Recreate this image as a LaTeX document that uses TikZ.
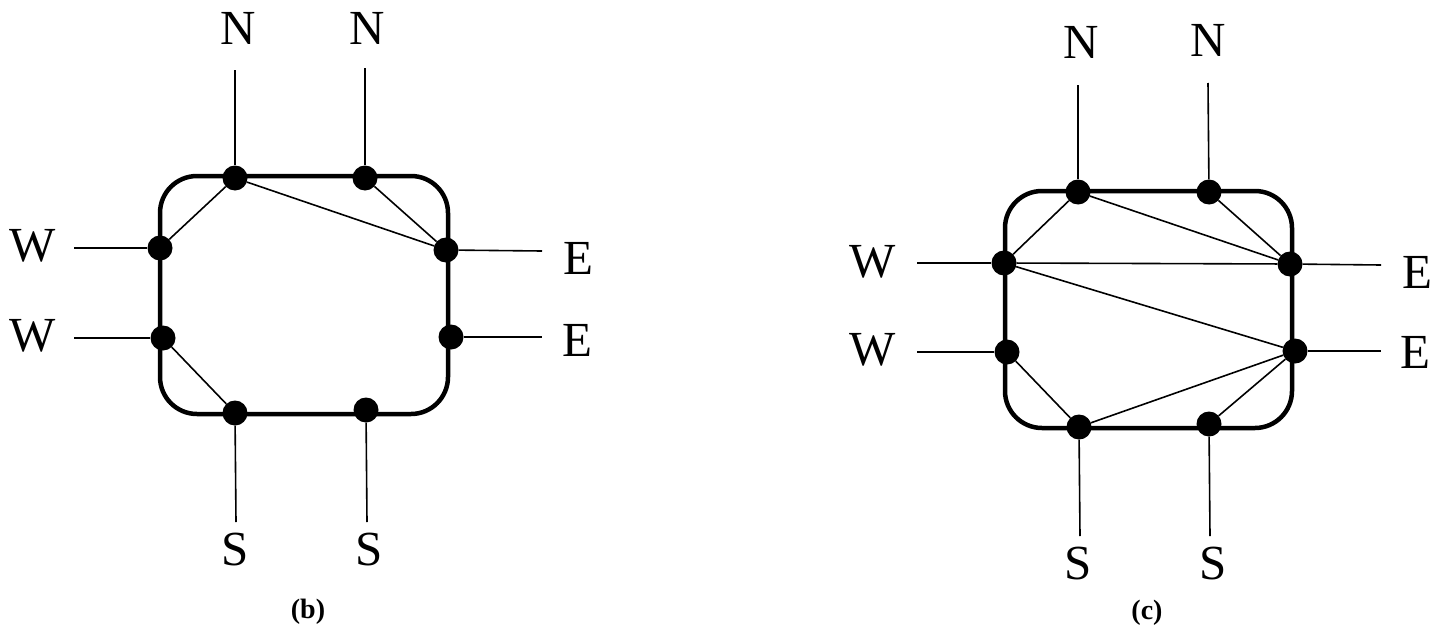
\documentclass[tikz,border=0pt]{standalone}
\usepackage{fontspec}
\setmainfont{Liberation Serif}
\begin{document}
\begin{tikzpicture}[x=1pt,y=-1pt,
  frame/.style={draw,line width=4.5pt,rounded corners=37pt,rectangle,inner sep=0pt},
  pin/.style={circle,fill=black,inner sep=0pt,minimum size=25pt},
  wire/.style={line width=1.6pt},
  dir/.style={inner sep=0pt,font=\fontsize{49}{55}\selectfont},
  caption/.style={inner sep=0pt,font=\fontsize{28}{32}\selectfont\bfseries}]
\useasboundingbox (0,0) rectangle (1451,629);

% ---------- (b) ----------
\node[frame,minimum width=288pt,minimum height=238pt] (bbox) at (304,295) {};
\node[pin] (bN1) at (235,178) {};
\node[pin] (bN2) at (365,178) {};
\node[pin] (bW1) at (160,248) {};
\node[pin] (bW2) at (163,338) {};
\node[pin] (bE1) at (446,250) {};
\node[pin] (bE2) at (451,337) {};
\node[pin] (bS1) at (235,413) {};
\node[pin] (bS2) at (366,410) {};

\coordinate (bN1t) at (235,70);
\coordinate (bN2t) at (365,68);
\coordinate (bW1t) at (74,248);
\coordinate (bW2t) at (74,338);
\coordinate (bE1t) at (542,251);
\coordinate (bE2t) at (542,337);
\coordinate (bS1t) at (236,522);
\coordinate (bS2t) at (367,522);

\draw[wire] (bN1t) -- (bN1);
\draw[wire] (bN2t) -- (bN2);
\draw[wire] (bW1t) -- (bW1);
\draw[wire] (bW2t) -- (bW2);
\draw[wire] (bE1) -- (bE1t);
\draw[wire] (bE2) -- (bE2t);
\draw[wire] (bS1) -- (bS1t);
\draw[wire] (bS2) -- (bS2t);

\draw[wire] (bW1) -- (bN1);
\draw[wire] (bN1) -- (bE1);
\draw[wire] (bN2) -- (bE1);
\draw[wire] (bW2) -- (bS1);

\node[dir] (bLN1) at (238,28) {N};
\node[dir] (bLN2) at (367,28) {N};
\node[dir] (bLW1) at (33,246) {W};
\node[dir] (bLW2) at (33,336) {W};
\node[dir] (bLE1) at (578,258) {E};
\node[dir] (bLE2) at (577,340) {E};
\node[dir] (bLS1) at (235,550) {S};
\node[dir] (bLS2) at (369,550) {S};
\node[caption] (bcap) at (308,612) {(b)};

% ---------- (c) ----------
\node[frame,minimum width=287pt,minimum height=237pt] (cbox) at (1148.5,309.5) {};
\node[pin] (cN1) at (1078,192) {};
\node[pin] (cN2) at (1209,192) {};
\node[pin] (cW1) at (1004,263) {};
\node[pin] (cW2) at (1007,352) {};
\node[pin] (cE1) at (1290,264) {};
\node[pin] (cE2) at (1295,351) {};
\node[pin] (cS1) at (1079,427) {};
\node[pin] (cS2) at (1209,424) {};

\coordinate (cN1t) at (1078,85);
\coordinate (cN2t) at (1208,83);
\coordinate (cW1t) at (917,263);
\coordinate (cW2t) at (917,352);
\coordinate (cE1t) at (1381,265);
\coordinate (cE2t) at (1381,351);
\coordinate (cS1t) at (1080,536);
\coordinate (cS2t) at (1210,536);

\draw[wire] (cN1t) -- (cN1);
\draw[wire] (cN2t) -- (cN2);
\draw[wire] (cW1t) -- (cW1);
\draw[wire] (cW2t) -- (cW2);
\draw[wire] (cE1) -- (cE1t);
\draw[wire] (cE2) -- (cE2t);
\draw[wire] (cS1) -- (cS1t);
\draw[wire] (cS2) -- (cS2t);

\draw[wire] (cW1) -- (cN1);
\draw[wire] (cN1) -- (cE1);
\draw[wire] (cN2) -- (cE1);
\draw[wire] (cW1) -- (cE1);
\draw[wire] (cW1) -- (cE2);
\draw[wire] (cW2) -- (cS1);
\draw[wire] (cS1) -- (cE2);
\draw[wire] (cS2) -- (cE2);

\node[dir] (cLN1) at (1081,42) {N};
\node[dir] (cLN2) at (1208,40) {N};
\node[dir] (cLW1) at (873,262) {W};
\node[dir] (cLW2) at (873,350) {W};
\node[dir] (cLE1) at (1417,272) {E};
\node[dir] (cLE2) at (1415,352) {E};
\node[dir] (cLS1) at (1078,564) {S};
\node[dir] (cLS2) at (1213,564) {S};
\node[caption] (ccap) at (1147,613) {(c)};
\end{tikzpicture}
\end{document}
